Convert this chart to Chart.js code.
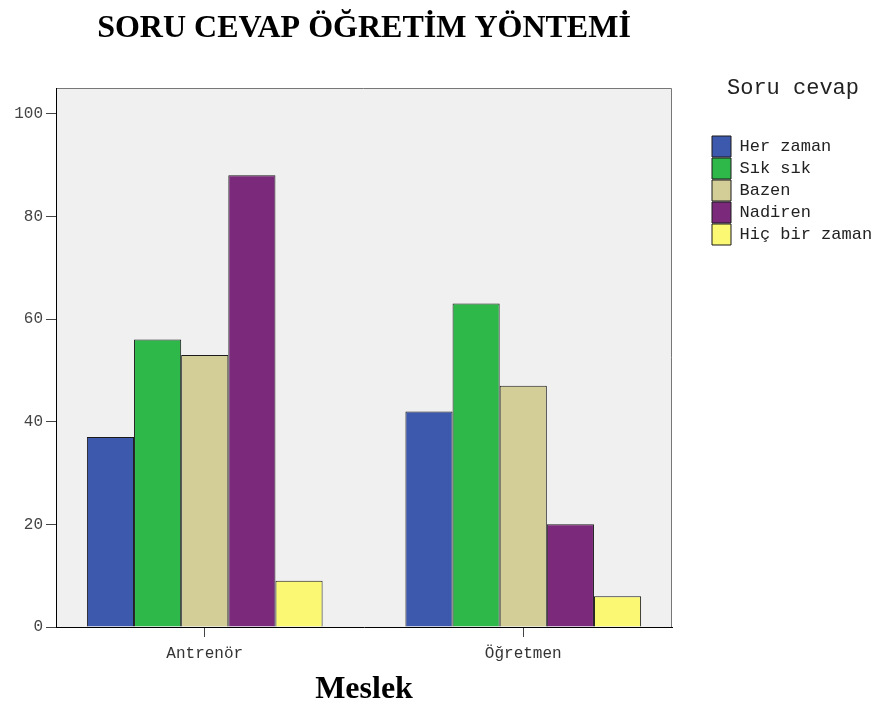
<!DOCTYPE html>
<html>
<head>
<meta charset="utf-8">
<script src="https://cdn.jsdelivr.net/npm/chart.js@4"></script>
<style>
  html, body { margin: 0; padding: 0; background: #fff; }
  #wrap { width: 875px; height: 709px; }
</style>
</head>
<body>
<div id="wrap"><canvas id="myChart" width="875" height="709"></canvas></div>
<script>
// values
var categories = ['Antrenör', 'Öğretmen']
var seriesNames = ['Her zaman', 'Sık sık', 'Bazen', 'Nadiren', 'Hiç bir zaman']
var herZaman = [37, 42]
var sikSik = [56, 63]
var bazen = [53, 47]
var nadiren = [88, 20]
var hicBirZaman = [9, 6]
var yTicks = [0, 20, 40, 60, 80, 100]

var seriesValues = [herZaman, sikSik, bazen, nadiren, hicBirZaman]
var seriesColors = ['#3d59ad', '#2eb84a', '#d3ce97', '#7b2a7b', '#fbf873']

var mono = 'Liberation Mono'
var serif = 'Liberation Serif'

// categories sit at 1, 2 on a linear x axis so the spacing can match the original
function toPoints(vals) {
    return vals.map(function (v, i) { return { x: i + 1, y: v } })
}

var datasets = []
seriesNames.forEach(function (name, i) {
    datasets.push({
        label: name,
        data: toPoints(seriesValues[i]),
        backgroundColor: seriesColors[i],
        borderColor: '#1a1a1a',
        borderWidth: 1,
        borderSkipped: 'bottom',
        categoryPercentage: 0.74,
        barPercentage: 1.0
    })
})

// plot background + gray top/right frame
var frame = {
    id: 'frame',
    beforeDraw: function (chart) {
        var a = chart.chartArea, ctx = chart.ctx
        ctx.save()
        ctx.fillStyle = '#f0f0f0'
        ctx.fillRect(a.left, a.top, a.right - a.left, a.bottom - a.top)
        ctx.strokeStyle = '#777'
        ctx.lineWidth = 1
        ctx.beginPath()
        ctx.moveTo(a.left, a.top + 0.5)
        ctx.lineTo(a.right - 0.5, a.top + 0.5)
        ctx.lineTo(a.right - 0.5, a.bottom)
        ctx.stroke()
        ctx.restore()
    }
}

var myChart = document.getElementById('myChart').getContext('2d')
var chart = new Chart(myChart, {
    type: 'bar',
    data: { datasets: datasets },
    plugins: [frame],
    options: {
        responsive: false,
        animation: false,
        layout: { padding: 0 },
        scales: {
            x: {
                type: 'linear',
                offset: false,
                min: 0.533,
                max: 2.467,
                afterFit: function (s) { s.height = 82 },
                afterBuildTicks: function (s) {
                    s.ticks = categories.map(function (c, i) { return { value: i + 1 } })
                },
                border: { display: true, color: '#000', width: 1 },
                grid: { display: true, offset: false, drawOnChartArea: false, drawTicks: true, tickLength: 10, tickColor: '#444' },
                ticks: {
                    autoSkip: false,
                    maxRotation: 0,
                    padding: 7,
                    color: '#333',
                    font: { family: mono, size: 16 },
                    callback: function (v) {
                        return categories[Math.round(v) - 1] || ''
                    }
                },
                title: {
                    display: true,
                    text: 'Meslek',
                    color: '#000',
                    font: { family: serif, size: 32, weight: 'bold' },
                    padding: { top: 0, bottom: 0 }
                }
            },
            y: {
                min: 0,
                max: 105,
                afterFit: function (s) { s.width = 56 },
                afterBuildTicks: function (s) {
                    s.ticks = yTicks.map(function (v) { return { value: v } })
                },
                border: { display: true, color: '#000', width: 1 },
                grid: { display: true, drawOnChartArea: false, drawTicks: true, tickLength: 10, tickColor: '#444' },
                ticks: {
                    padding: 3,
                    color: '#444',
                    font: { family: mono, size: 16 }
                }
            },
            // empty right axis only to leave the gap before the legend
            y2: {
                position: 'right',
                display: true,
                afterFit: function (s) { s.width = 39 },
                border: { display: false },
                grid: { display: false },
                ticks: { display: false }
            }
        },
        plugins: {
            title: {
                display: true,
                fullSize: false,
                text: 'SORU CEVAP ÖĞRETİM YÖNTEMİ',
                color: '#000',
                font: { family: serif, size: 32, weight: 'bold' },
                padding: { top: 10, bottom: 39.6 }
            },
            legend: {
                display: true,
                position: 'right',
                align: 'start',
                maxWidth: 164,
                title: {
                    display: true,
                    text: 'Soru cevap',
                    color: '#222',
                    font: { family: mono, size: 22 },
                    padding: { top: 77, bottom: 31.6 }
                },
                labels: {
                    boxWidth: 19,
                    boxHeight: 21,
                    padding: 1,
                    color: '#222',
                    font: { family: mono, size: 17 }
                }
            },
            tooltip: { enabled: false }
        }
    }
})
</script>
</body>
</html>
